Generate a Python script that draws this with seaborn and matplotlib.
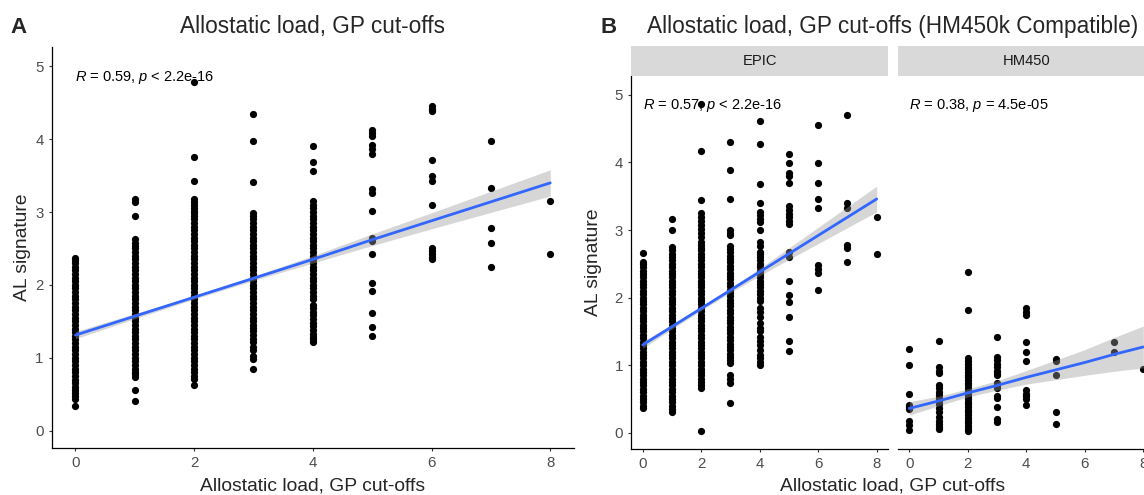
import numpy as np
import pandas as pd
import matplotlib
matplotlib.use("Agg")
import matplotlib.pyplot as plt
import seaborn as sns

# ---------------- data ----------------
x_levels = [0, 1, 2, 3, 4, 5, 6, 7, 8]

# Panel A: all samples
A0 = [0.34, 0.43, 0.47, 0.51, 0.55, 0.60, 0.65, 0.70, 0.75, 0.80, 0.85, 0.90, 0.95, 1.00, 1.05, 1.10, 1.15, 1.20, 1.25, 1.30, 1.35, 1.40, 1.45, 1.50, 1.55, 1.60, 1.65, 1.70, 1.75, 1.80, 1.85, 1.90, 1.95, 2.00, 2.05, 2.10, 2.15, 2.20, 2.25, 2.30, 2.34, 2.37]
A1 = [0.41, 0.55, 0.73, 0.77, 0.81, 0.85, 0.90, 0.95, 1.00, 1.05, 1.10, 1.15, 1.20, 1.25, 1.30, 1.35, 1.40, 1.45, 1.50, 1.55, 1.60, 1.65, 1.70, 1.75, 1.80, 1.85, 1.90, 1.95, 2.00, 2.05, 2.10, 2.15, 2.20, 2.25, 2.30, 2.35, 2.40, 2.45, 2.50, 2.54, 2.58, 2.63, 2.94, 3.14, 3.18]
A2 = [0.62, 0.71, 0.75, 0.80, 0.85, 0.90, 0.95, 1.00, 1.05, 1.10, 1.15, 1.20, 1.25, 1.30, 1.35, 1.40, 1.45, 1.50, 1.55, 1.60, 1.65, 1.70, 1.75, 1.80, 1.85, 1.90, 1.95, 2.00, 2.05, 2.10, 2.15, 2.20, 2.25, 2.30, 2.35, 2.40, 2.45, 2.50, 2.55, 2.60, 2.65, 2.70, 2.75, 2.80, 2.85, 2.90, 2.94, 2.98, 3.02, 3.06, 3.10, 3.14, 3.18, 3.43, 3.76, 4.78]
A3 = [0.84, 0.98, 1.03, 1.11, 1.15, 1.21, 1.26, 1.31, 1.36, 1.41, 1.45, 1.50, 1.55, 1.60, 1.65, 1.70, 1.75, 1.80, 1.85, 1.90, 1.95, 2.00, 2.05, 2.10, 2.15, 2.20, 2.25, 2.30, 2.35, 2.40, 2.45, 2.50, 2.55, 2.60, 2.65, 2.70, 2.75, 2.80, 2.85, 2.90, 2.95, 2.99, 3.41, 3.98, 4.35]
A4 = [1.22, 1.25, 1.29, 1.33, 1.38, 1.43, 1.48, 1.53, 1.58, 1.63, 1.68, 1.73, 1.81, 1.85, 1.90, 1.95, 2.00, 2.05, 2.10, 2.15, 2.20, 2.25, 2.30, 2.35, 2.40, 2.45, 2.50, 2.55, 2.60, 2.65, 2.70, 2.75, 2.80, 2.85, 2.90, 2.95, 3.00, 3.05, 3.10, 3.15, 3.56, 3.69, 3.91]
A5 = [1.30, 1.42, 1.62, 1.92, 2.02, 2.42, 2.60, 2.64, 3.01, 3.26, 3.31, 3.80, 3.87, 3.92, 4.04, 4.08, 4.13]
A6 = [2.35, 2.38, 2.42, 2.46, 2.51, 3.09, 3.43, 3.49, 3.71, 4.39, 4.42, 4.46]
A7 = [2.25, 2.58, 2.78, 3.33, 3.98]
A8 = [2.43, 3.15]

# Panel B, EPIC facet
E0 = [0.36, 0.40, 0.45, 0.50, 0.55, 0.60, 0.65, 0.70, 0.75, 0.80, 0.85, 0.90, 0.95, 1.00, 1.05, 1.10, 1.15, 1.20, 1.25, 1.30, 1.35, 1.40, 1.45, 1.50, 1.55, 1.60, 1.65, 1.70, 1.75, 1.80, 1.85, 1.90, 1.95, 2.00, 2.05, 2.10, 2.15, 2.20, 2.25, 2.30, 2.35, 2.40, 2.45, 2.50, 2.53, 2.66]
E1 = [0.31, 0.35, 0.40, 0.45, 0.50, 0.55, 0.60, 0.65, 0.70, 0.75, 0.80, 0.85, 0.90, 0.95, 1.00, 1.05, 1.10, 1.15, 1.20, 1.25, 1.30, 1.35, 1.40, 1.45, 1.50, 1.55, 1.60, 1.65, 1.70, 1.75, 1.80, 1.85, 1.90, 1.95, 2.00, 2.05, 2.10, 2.15, 2.20, 2.25, 2.30, 2.35, 2.40, 2.45, 2.50, 2.55, 2.60, 2.65, 2.70, 2.75, 3.00, 3.16]
E2 = [0.03, 0.66, 0.70, 0.75, 0.80, 0.85, 0.90, 0.95, 1.00, 1.05, 1.10, 1.15, 1.20, 1.25, 1.30, 1.35, 1.40, 1.45, 1.50, 1.55, 1.60, 1.65, 1.70, 1.75, 1.80, 1.85, 1.90, 1.95, 2.00, 2.05, 2.10, 2.15, 2.20, 2.25, 2.30, 2.35, 2.40, 2.45, 2.50, 2.55, 2.60, 2.65, 2.70, 2.74, 2.78, 2.83, 2.89, 2.95, 3.01, 3.07, 3.13, 3.19, 3.25, 3.45, 4.17, 4.87]
E3 = [0.44, 0.73, 0.80, 0.85, 1.03, 1.07, 1.12, 1.17, 1.22, 1.27, 1.32, 1.37, 1.42, 1.47, 1.52, 1.57, 1.62, 1.67, 1.72, 1.77, 1.82, 1.87, 1.92, 1.97, 2.02, 2.07, 2.12, 2.17, 2.22, 2.27, 2.32, 2.37, 2.42, 2.47, 2.52, 2.57, 2.62, 2.67, 2.72, 2.77, 2.92, 2.96, 3.00, 3.46, 3.89, 4.31]
E4 = [1.00, 1.05, 1.10, 1.15, 1.22, 1.30, 1.36, 1.42, 1.50, 1.55, 1.62, 1.72, 1.78, 1.85, 1.95, 2.00, 2.05, 2.10, 2.15, 2.20, 2.25, 2.30, 2.35, 2.40, 2.45, 2.50, 2.55, 2.60, 2.65, 2.68, 2.77, 2.83, 3.00, 3.12, 3.16, 3.22, 3.27, 3.40, 3.68, 4.28, 4.61]
E5 = [1.21, 1.36, 1.72, 1.93, 2.04, 2.25, 2.60, 2.68, 3.09, 3.14, 3.19, 3.24, 3.29, 3.35, 3.69, 3.80, 3.84, 3.99, 4.13]
E6 = [2.12, 2.36, 2.42, 2.48, 3.33, 3.46, 3.69, 3.99, 4.56]
E7 = [2.53, 2.73, 2.78, 3.32, 3.40, 4.70]
E8 = [2.65, 3.19]

# Panel B, HM450 facet
H0 = [0.04, 0.11, 0.18, 0.35, 0.38, 0.41, 0.58, 1.00, 1.24]
H1 = [0.06, 0.09, 0.13, 0.18, 0.24, 0.30, 0.37, 0.42, 0.47, 0.51, 0.56, 0.61, 0.66, 0.71, 0.88, 0.92, 0.97, 1.36]
H2 = [0.02, 0.06, 0.10, 0.14, 0.18, 0.22, 0.26, 0.30, 0.34, 0.38, 0.42, 0.46, 0.50, 0.54, 0.58, 0.62, 0.66, 0.70, 0.74, 0.78, 0.82, 0.86, 0.90, 0.94, 0.98, 1.02, 1.06, 1.10, 1.81, 2.38]
H3 = [0.16, 0.21, 0.385, 0.51, 0.55, 0.66, 0.70, 0.73, 0.85, 0.88, 0.92, 0.97, 1.02, 1.07, 1.12, 1.41]
H4 = [0.41, 0.50, 0.55, 0.58, 0.63, 1.06, 1.19, 1.35, 1.74, 1.78, 1.84]
H5 = [0.13, 0.31, 0.85, 1.06, 1.09]
H6 = []
H7 = [1.19, 1.35]
H8 = [0.95]

# fitted linear trend (geom_smooth, method = lm)
fit_x = [0, 1, 2, 3, 4, 5, 6, 7, 8]
A_fit = [1.31, 1.57, 1.83, 2.09, 2.35, 2.62, 2.88, 3.14, 3.40]
A_half = [0.05, 0.035, 0.025, 0.03, 0.05, 0.08, 0.11, 0.145, 0.18]
E_fit = [1.30, 1.57, 1.84, 2.11, 2.38, 2.65, 2.92, 3.19, 3.46]
E_half = [0.05, 0.035, 0.03, 0.035, 0.055, 0.085, 0.12, 0.155, 0.19]
H_fit = [0.36, 0.47, 0.59, 0.70, 0.82, 0.93, 1.04, 1.16, 1.27]
H_half = [0.10, 0.07, 0.06, 0.07, 0.10, 0.145, 0.19, 0.25, 0.31]

x_ticks = [0, 2, 4, 6, 8]
y_ticks = [0, 1, 2, 3, 4, 5]
title_A = "Allostatic load, GP cut-offs"
title_B = "Allostatic load, GP cut-offs (HM450k Compatible)"
x_label = "Allostatic load, GP cut-offs"
y_label = "AL signature"
facet_names = ["EPIC", "HM450"]
stat_A = r"$\mathit{R}$ = 0.59, $\mathit{p}$ < 2.2e-16"
stat_E = r"$\mathit{R}$ = 0.57, $\mathit{p}$ < 2.2e-16"
stat_H = r"$\mathit{R}$ = 0.38, $\mathit{p}$ = 4.5e-05"


def build(cols):
    xs, ys = [], []
    for lvl, vals in zip(x_levels, cols):
        xs += [lvl] * len(vals)
        ys += list(vals)
    return pd.DataFrame({"load": xs, "signature": ys})


dfA = build([A0, A1, A2, A3, A4, A5, A6, A7, A8])
dfE = build([E0, E1, E2, E3, E4, E5, E6, E7, E8])
dfH = build([H0, H1, H2, H3, H4, H5, H6, H7, H8])

# ---------------- style ----------------
sns.set_style("white")
plt.rcParams["font.family"] = ["Liberation Sans", "DejaVu Sans"]
plt.rcParams["mathtext.fontset"] = "custom"
plt.rcParams["mathtext.rm"] = "Liberation Sans"
plt.rcParams["mathtext.it"] = "Liberation Sans:italic"

W, H = 1144, 495
fig = plt.figure(figsize=(W / 100, H / 100), dpi=100)
fig.patch.set_facecolor("white")


def fpos(l, r, t, b):
    return [l / W, 1 - b / H, (r - l) / W, (b - t) / H]


axA = fig.add_axes(fpos(51.7, 574.0, 46.7, 448.0))
axE = fig.add_axes(fpos(631.0, 888.4, 76.0, 449.3))
axH = fig.add_axes(fpos(897.6, 1155.0, 76.0, 449.3))

LINE = "#3366FF"
BAND = "#999999"
TICKLAB = "#4D4D4D"


def panel(ax, df, fit, half, ylim, stat, show_y=True):
    sns.scatterplot(data=df, x="load", y="signature", ax=ax, color="black",
                    s=27, linewidth=0, legend=False, zorder=2, clip_on=False)
    lo = [f - h for f, h in zip(fit, half)]
    hi = [f + h for f, h in zip(fit, half)]
    ax.fill_between(fit_x, lo, hi, color=BAND, alpha=0.4, linewidth=0, zorder=3)
    sns.lineplot(x=fit_x, y=fit, ax=ax, color=LINE, linewidth=2.0, zorder=4)
    ax.set_xlim(-0.4, 8.4)
    ax.set_ylim(*ylim)
    ax.set_xticks(x_ticks)
    ax.set_xlabel("")
    ax.set_ylabel("")
    ax.set_facecolor("white")
    for s in ["top", "right"]:
        ax.spines[s].set_visible(False)
    ax.spines["bottom"].set_color("black")
    ax.spines["bottom"].set_linewidth(0.9)
    if show_y:
        ax.set_yticks(y_ticks)
        ax.spines["left"].set_color("black")
        ax.spines["left"].set_linewidth(0.9)
    else:
        ax.set_yticks([])
        ax.spines["left"].set_visible(False)
    ax.tick_params(axis="both", which="both", direction="out", length=2.4,
                   width=0.8, color="#333333", labelcolor=TICKLAB,
                   labelsize=10.8, pad=3.5, bottom=True, left=show_y)
    ax.text(0, 4.85, stat, ha="left", va="center", fontsize=10.5,
            color="black", zorder=5)


panel(axA, dfA, A_fit, A_half, (-0.24, 5.27), stat_A)
panel(axE, dfE, E_fit, E_half, (-0.245, 5.28), stat_E)
panel(axH, dfH, H_fit, H_half, (-0.245, 5.28), stat_H, show_y=False)

# facet strips
for (l, r), name in zip([(631.0, 888.4), (897.6, 1155.0)], facet_names):
    sax = fig.add_axes(fpos(l, r, 46.0, 76.0))
    sax.set_facecolor("#D9D9D9")
    sax.set_xticks([])
    sax.set_yticks([])
    for s in sax.spines.values():
        s.set_visible(False)
    sax.text(0.5, 0.5, name, transform=sax.transAxes, ha="center",
             va="center", fontsize=10.6, color="#1A1A1A")


def ftext(x, y, s, **kw):
    fig.text(x / W, 1 - y / H, s, **kw)


# titles and panel tags
ftext(312.8, 33.3, title_A, ha="center", va="baseline", fontsize=16.3)
ftext(893.0, 33.3, title_B, ha="center", va="baseline", fontsize=16.3)
ftext(10.0, 33.3, "A", ha="left", va="baseline", fontsize=16, fontweight="bold")
ftext(600.0, 33.3, "B", ha="left", va="baseline", fontsize=16, fontweight="bold")

# axis titles
ftext(312.8, 490.7, x_label, ha="center", va="baseline", fontsize=13.9)
ftext(893.0, 490.7, x_label, ha="center", va="baseline", fontsize=13.9)
ftext(27.0, 247.3, y_label, ha="center", va="baseline", fontsize=13.9,
      rotation=90, rotation_mode="anchor")
ftext(597.5, 262.7, y_label, ha="center", va="baseline", fontsize=13.9,
      rotation=90, rotation_mode="anchor")

fig.savefig("out.png", dpi=100, facecolor="white")
